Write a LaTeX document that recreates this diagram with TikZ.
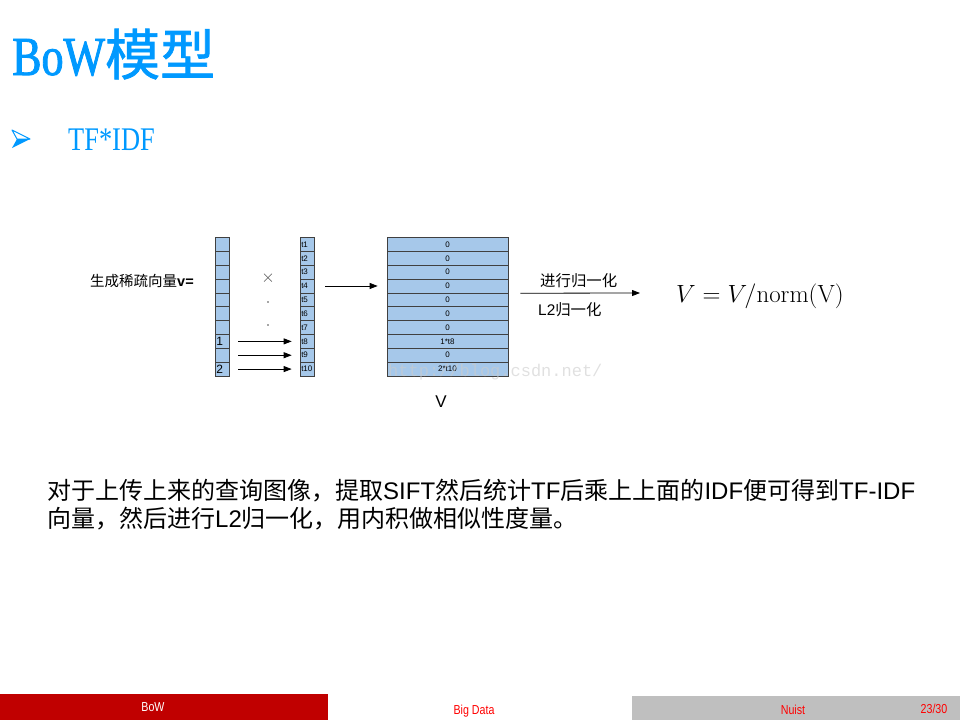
\documentclass[tikz,border=0pt]{standalone}
\usepackage[no-math]{fontspec}
\setmainfont{Liberation Sans}
\newfontfamily\cjk{Noto Sans CJK SC}
\newfontfamily\cjkbold[FakeBold=1.2]{Noto Sans CJK SC}
\newfontfamily\serifnarrow[FakeStretch=0.8]{Liberation Serif}
\newfontfamily\serifheavy[FakeStretch=0.8,FakeBold=1.6]{Liberation Serif}
\newfontfamily\sansnarrow[FakeStretch=0.82]{Liberation Sans}
\newfontfamily\wmfont{Liberation Mono}
\usetikzlibrary{arrows.meta}

\definecolor{titleblue}{RGB}{0,153,255}
\definecolor{cellblue}{RGB}{166,200,234}
\definecolor{barred}{RGB}{192,0,0}
\definecolor{bargray}{RGB}{191,191,191}
\definecolor{footred}{RGB}{255,0,0}
\newcommand{\setpx}[1]{\fontsize{#1}{#1}\selectfont}

\begin{document}
\begin{tikzpicture}[%
      x=1pt, y=-1pt,
      cell/.style={draw=black!75, fill=cellblue, line width=0.7pt,
        minimum height=13.85pt, inner sep=0pt},
      narrowcell/.style={cell, minimum width=14pt, text width=11.5pt,
        inner xsep=1.25pt, align=left},
      widecell/.style={cell, minimum width=121pt},
      arr/.style={-{Triangle[length=8pt,width=6pt]}, line width=0.8pt},
      ]
      \useasboundingbox (0,0) rectangle (960,720);

      % title
      \node[anchor=base west, inner sep=0pt, text=titleblue] (title) at (12,75)
        {\setpx{55}\serifheavy BoW\cjkbold 模型};
      \fill[titleblue] (12,148) -- (30,139) -- (17,139) -- cycle;
      \draw[titleblue, line width=1pt, line join=round] (12,130) -- (30,139) -- (17,139) -- cycle;
      \node[anchor=base west, inner sep=0pt, text=titleblue] (sub) at (68,150)
        {\setpx{33}\serifnarrow TF*IDF};

      % the three columns
      \foreach \i/\s/\v in {1/{}/0,2/{}/0,3/{}/0,4/{}/0,5/{}/0,6/{}/0,7/{}/0,8/1/1*t8,9/{}/0,10/2/2*t10} {
        \pgfmathsetmacro{\y}{237.5+(\i-0.5)*13.85}
        \node[narrowcell] (a\i) at (222,\y) {\setpx{12}\s};
        \node[narrowcell] (b\i) at (307,\y) {\setpx{8}t\i};
        \node[widecell] (v\i) at (447.5,\y) {\setpx{8}\v};
      }

      \node[anchor=base west, inner sep=0pt] (sparse) at (90,286)
        {\setpx{14.5}\cjk 生成稀疏向量\bfseries\rmfamily v=};
      \node[text=black!70, inner sep=0pt] (times) at (268,278) {\setpx{18}$\times$};
      \fill[black!70] (268,302) circle (0.9);
      \fill[black!70] (268,325) circle (0.9);

      \draw[arr, shorten <=9pt, shorten >=8pt] (a8) -- (b8);
      \draw[arr, shorten <=9pt, shorten >=8pt] (a9) -- (b9);
      \draw[arr, shorten <=9pt, shorten >=8pt] (a10) -- (b10);
      \draw[arr, shorten <=11pt, shorten >=9pt] (b4) -- (v4);

      \node[anchor=base, inner sep=0pt] (vname) at (441,407) {\setpx{17}V};

      % normalisation
      \node[anchor=base west, inner sep=0pt] (norm) at (676,302)
        {\setpx{24}$V = V/\mathrm{norm(V)}$};
      \coordinate (vmid) at (v4.south east);
      \coordinate (nend) at (640,293);
      \draw[arr, shorten <=12pt] (vmid) -- (nend);
      \node[anchor=base west, inner sep=0pt] (up) at (540,286)
        {\setpx{15.4}\cjk 进行归一化};
      \node[anchor=base west, inner sep=0pt] (down) at (538,315)
        {\setpx{15.4}L2\cjk 归一化};

      \node[anchor=base west, inner sep=0pt, text=black!20, opacity=0.6] (wm) at (388,376)
        {\setpx{17}\wmfont http://blog.csdn.net/};

      % text
      \node[anchor=base west, inner sep=0pt] (line1) at (47,499)
        {\setpx{24}{\cjk 对于上传上来的查询图像，提取}SIFT{\cjk 然后统计}TF{\cjk 后乘上上面的}IDF{\cjk 便可得到}TF-IDF};
      \node[anchor=base west, inner sep=0pt] (line2) at (47,527)
        {\setpx{24}{\cjk 向量，然后进行}L2{\cjk 归一化，用内积做相似性度量。}};

      % footer
      \fill[barred] (0,694) rectangle (328,720);
      \fill[bargray] (632,696) rectangle (960,720);
      \node[text=white] (foot1) at (153,707) {\setpx{13}\sansnarrow BoW};
      \node[text=footred] (foot2) at (474,711) {\setpx{13}\sansnarrow Big Data};
      \node[text=footred] (foot3) at (793,710) {\setpx{13}\sansnarrow Nuist};
      \node[text=footred] (foot4) at (934,709) {\setpx{13}\sansnarrow 23/30};
\end{tikzpicture}
\end{document}
